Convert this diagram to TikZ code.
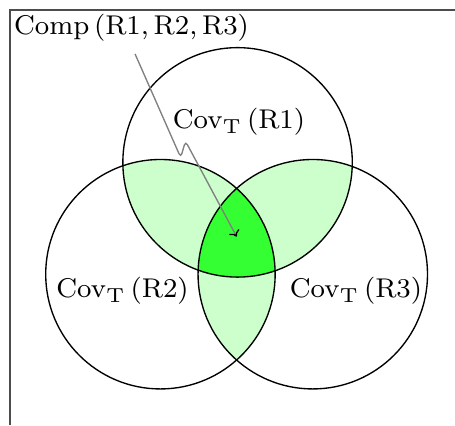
\documentclass[tikz,border=0pt]{standalone}
\usepackage{amsmath}
\usepackage{tikz}
\usetikzlibrary{arrows.meta, positioning}
\usepackage{xcolor}

\begin{document}
\begin{tikzpicture}[
  font=\footnotesize,
  region/.style={draw=black},
  pairfill/.style={fill=green!20},
  triplefill/.style={fill=green!80},
  setlabel/.style={inner sep=1pt},
  pointer/.style={draw=gray, -{To[black, length=1.7pt, width=3.4pt]}, shorten <=2.6pt, rounded corners=1.2pt},
  frameline/.style={draw=black!70}
]
\useasboundingbox (-0.104,0.104) rectangle (4.615,-4.304);

% Frame
\draw[frameline] (0,-4.304) |- (4.615,0);

% Circle centres
\coordinate (c1) at (2.36,-1.58);
\coordinate (c2) at (1.56,-2.74);
\coordinate (c3) at (3.14,-2.74);
\coordinate (core) at (2.35,-2.35);
\def\rad{1.19}

% Pairwise overlaps
\begin{scope}
  \clip (c1) circle (\rad);
  \fill[pairfill] (c2) circle (\rad);
  \fill[pairfill] (c3) circle (\rad);
\end{scope}
\begin{scope}
  \clip (c2) circle (\rad);
  \fill[pairfill] (c3) circle (\rad);
\end{scope}

% Triple overlap
\begin{scope}
  \clip (c1) circle (\rad);
  \clip (c2) circle (\rad);
  \fill[triplefill] (c3) circle (\rad);
\end{scope}

% Circles
\draw[region] (c1) circle (\rad);
\draw[region] (c2) circle (\rad);
\draw[region] (c3) circle (\rad);

% Labels
\node[setlabel] (r1) at (2.375,-1.161) {$\operatorname{Cov}_{\mathrm{T}}\left(\mathrm{R1}\right)$};
\node[setlabel] (r2) at (1.167,-2.914) {$\operatorname{Cov}_{\mathrm{T}}\left(\mathrm{R2}\right)$};
\node[setlabel] (r3) at (3.588,-2.914) {$\operatorname{Cov}_{\mathrm{T}}\left(\mathrm{R3}\right)$};
\node[setlabel, anchor=base west] (comp) at (0,-0.259) {$\operatorname{Comp}\left(\mathrm{R1},\mathrm{R2},\mathrm{R3}\right)$};

% Pointer
\draw[pointer] (comp.south) -- (1.77,-1.53) -- (1.82,-1.36) -- (core);

\end{tikzpicture}
\end{document}
